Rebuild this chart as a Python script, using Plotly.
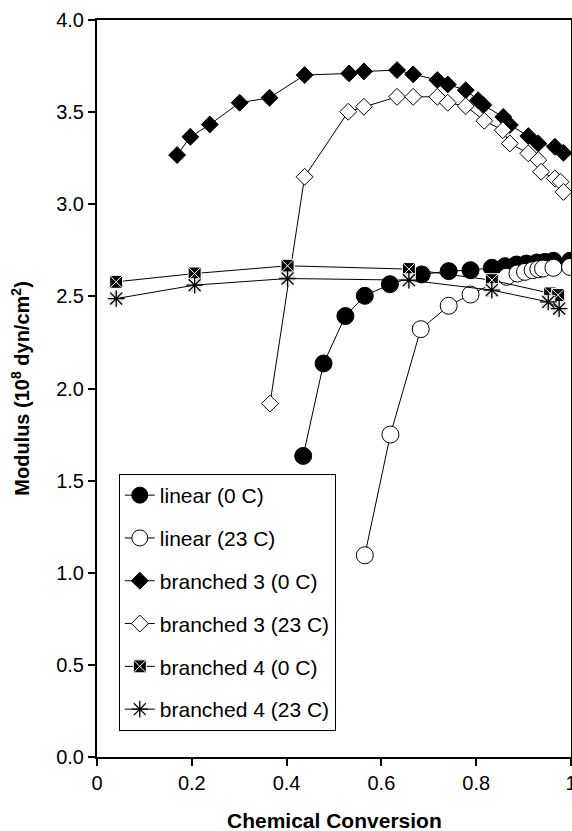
import plotly.graph_objects as go

# ---- data ----
lin0_x = [0.435, 0.478, 0.524, 0.565, 0.618, 0.685, 0.742, 0.788, 0.833, 0.861, 0.885, 0.906, 0.928, 0.945, 0.963, 0.998]
lin0_y = [1.634, 2.136, 2.393, 2.503, 2.566, 2.619, 2.637, 2.642, 2.655, 2.664, 2.673, 2.678, 2.684, 2.687, 2.693, 2.693]

lin23_x = [0.565, 0.619, 0.683, 0.742, 0.788, 0.864, 0.887, 0.903, 0.919, 0.931, 0.941, 0.963, 0.998]
lin23_y = [1.095, 1.750, 2.322, 2.449, 2.510, 2.606, 2.624, 2.633, 2.642, 2.648, 2.651, 2.655, 2.660]

br3_0_x = [0.169, 0.197, 0.238, 0.301, 0.364, 0.438, 0.532, 0.563, 0.633, 0.667, 0.718, 0.740, 0.778, 0.804, 0.815, 0.857, 0.871, 0.910, 0.931, 0.966, 0.984]
br3_0_y = [3.267, 3.366, 3.433, 3.551, 3.578, 3.701, 3.710, 3.721, 3.728, 3.705, 3.674, 3.650, 3.619, 3.565, 3.538, 3.474, 3.430, 3.370, 3.330, 3.312, 3.279]

br3_23_x = [0.365, 0.438, 0.530, 0.563, 0.633, 0.667, 0.718, 0.740, 0.778, 0.817, 0.856, 0.871, 0.910, 0.931, 0.937, 0.966, 0.978, 0.984]
br3_23_y = [1.918, 3.149, 3.502, 3.529, 3.583, 3.583, 3.583, 3.551, 3.533, 3.453, 3.402, 3.330, 3.276, 3.240, 3.176, 3.140, 3.122, 3.067]

br4_0_x = [0.0405, 0.206, 0.402, 0.658, 0.833, 0.956, 0.973]
br4_0_y = [2.579, 2.624, 2.666, 2.648, 2.588, 2.516, 2.507]

br4_23_x = [0.0405, 0.206, 0.402, 0.658, 0.833, 0.952, 0.975]
br4_23_y = [2.488, 2.561, 2.597, 2.588, 2.534, 2.470, 2.434]

x_ticks = [0, 0.2, 0.4, 0.6, 0.8, 1.0]
x_tick_labels = ["0", "0.2", "0.4", "0.6", "0.8", "1"]
y_ticks = [0, 0.5, 1.0, 1.5, 2.0, 2.5, 3.0, 3.5, 4.0]
y_tick_labels = ["0.0", "0.5", "1.0", "1.5", "2.0", "2.5", "3.0", "3.5", "4.0"]

FONT = "Arial, 'Liberation Sans', sans-serif"
LINE = dict(color="black", width=1)

fig = go.Figure()

fig.add_trace(go.Scatter(
    x=lin0_x, y=lin0_y, mode="lines+markers", name="linear (0 C)", legendgroup="a",
    line=LINE, marker=dict(symbol="circle", size=17, color="black", line=dict(color="black", width=1))))
fig.add_trace(go.Scatter(
    x=lin23_x, y=lin23_y, mode="lines+markers", name="linear (23 C)", legendgroup="b",
    line=LINE, marker=dict(symbol="circle", size=17, color="white", line=dict(color="black", width=1))))
fig.add_trace(go.Scatter(
    x=br3_0_x, y=br3_0_y, mode="lines+markers", name="branched 3 (0 C)", legendgroup="c",
    line=LINE, marker=dict(symbol="diamond", size=13, color="black", line=dict(color="black", width=1))))
fig.add_trace(go.Scatter(
    x=br3_23_x, y=br3_23_y, mode="lines+markers", name="branched 3 (23 C)", legendgroup="d",
    line=LINE, marker=dict(symbol="diamond", size=13, color="white", line=dict(color="black", width=1))))
fig.add_trace(go.Scatter(
    x=br4_0_x, y=br4_0_y, mode="lines+markers", name="branched 4 (0 C)", legendgroup="e",
    line=LINE, marker=dict(symbol="square-x", size=13, color="black", line=dict(color="white", width=1))))
fig.add_trace(go.Scatter(
    x=br4_23_x, y=br4_23_y, mode="markers", showlegend=False, hoverinfo="skip",
    marker=dict(symbol="square", size=14, color="#e6e6e6", line=dict(width=0))))
fig.add_trace(go.Scatter(
    x=br4_23_x, y=br4_23_y, mode="lines+markers", name="branched 4 (23 C)", legendgroup="f",
    line=LINE, marker=dict(symbol="asterisk-open", size=14, color="black", line=dict(color="black", width=1.3))))

axis_common = dict(
    showgrid=False, zeroline=False, showline=True, linecolor="black", linewidth=2,
    mirror=True, ticks="outside", ticklen=7, tickwidth=1.5, tickcolor="black",
    tickfont=dict(family=FONT, size=20, color="black"), automargin=False,
)

fig.update_xaxes(range=[0, 1], tickvals=x_ticks, ticktext=x_tick_labels,
                 ticklabeloverflow="allow", **axis_common)
fig.update_yaxes(range=[0, 4], tickvals=y_ticks, ticktext=y_tick_labels, **axis_common)

fig.update_layout(
    width=572, height=831,
    margin=dict(l=97, r=1, t=20, b=74, autoexpand=False),
    paper_bgcolor="white", plot_bgcolor="white",
    font=dict(family=FONT, color="black"),
    legend=dict(
        x=0.046, y=0.384, xanchor="left", yanchor="top",
        bgcolor="white", bordercolor="black", borderwidth=1,
        font=dict(family=FONT, size=21, color="black"),
        tracegroupgap=12.5, itemwidth=30,
    ),
    annotations=[
        dict(text="<b>Chemical Conversion</b>", xref="paper", yref="paper",
             x=0.5, y=-0.0865, xanchor="center", yanchor="middle", showarrow=False,
             font=dict(family=FONT, size=21, color="black")),
        dict(text="<b>Modulus (10<sup>8</sup> dyn/cm<sup>2</sup>)</b>", xref="paper", yref="paper",
             x=-0.162, y=0.5, xanchor="center", yanchor="middle", textangle=-90, showarrow=False,
             font=dict(family=FONT, size=20, color="black")),
    ],
)

fig.write_html("out.html")
